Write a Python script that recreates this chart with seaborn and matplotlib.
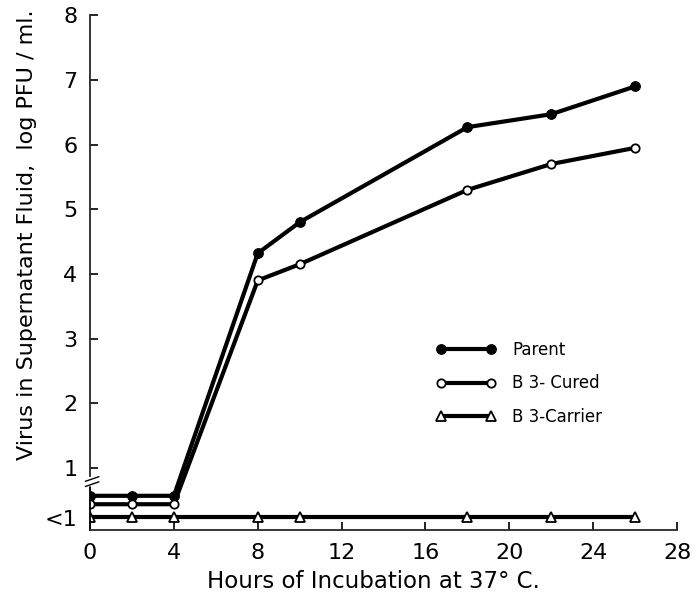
import matplotlib
matplotlib.use("Agg")
import matplotlib.pyplot as plt
import seaborn as sns
from matplotlib.lines import Line2D

hours_parent = [0, 2, 4, 8, 10, 18, 22, 26]
parent = [0.57, 0.57, 0.57, 4.32, 4.80, 6.27, 6.47, 6.90]
hours_cured = [0, 2, 4, 8, 10, 18, 22, 26]
cured = [0.44, 0.44, 0.44, 3.90, 4.15, 5.30, 5.70, 5.95]
hours_carrier = [0, 2, 4, 8, 10, 18, 22, 26]
carrier = [0.25, 0.25, 0.25, 0.25, 0.25, 0.25, 0.25, 0.25]

xticks = [0, 4, 8, 12, 16, 20, 24, 28]
yticks = [0.22, 1, 2, 3, 4, 5, 6, 7, 8]
ytick_labels = ["<1", "1", "2", "3", "4", "5", "6", "7", "8"]

sns.set_style("ticks")
plt.rcParams["font.family"] = ["DejaVu Sans"]
plt.rcParams["text.color"] = "black"
plt.rcParams["axes.labelcolor"] = "black"
plt.rcParams["xtick.color"] = "black"
plt.rcParams["ytick.color"] = "black"

fig = plt.figure(figsize=(6.98, 6.10), dpi=100)
ax = fig.add_axes([0.129, 0.131, 0.841, 0.844])

lw = 3.0
sns.lineplot(x=hours_parent, y=parent, ax=ax, color="black", lw=lw,
             marker="o", markersize=7, markerfacecolor="black",
             markeredgecolor="black", label="Parent")
sns.lineplot(x=hours_cured, y=cured, ax=ax, color="black", lw=lw,
             marker="o", markersize=6, markerfacecolor="white",
             markeredgecolor="black", markeredgewidth=1.3, label="B 3- Cured")
sns.lineplot(x=hours_carrier, y=carrier, ax=ax, color="black", lw=lw,
             marker="^", markersize=7, markerfacecolor="white",
             markeredgecolor="black", markeredgewidth=1.3, label="B 3-Carrier")

ax.set_xlim(0, 28)
ax.set_ylim(0.04, 8)
ax.set_xticks(xticks)
ax.set_xticklabels([str(t) for t in xticks])
ax.set_yticks(yticks)
ax.set_yticklabels(ytick_labels)
ax.tick_params(direction="in", length=6, width=1.2, labelsize=16, pad=9,
               colors="black")

sns.despine(ax=ax)
ax.spines["left"].set_linewidth(1.3)
ax.spines["bottom"].set_linewidth(1.3)
ax.spines["left"].set_bounds(0.88, 8)

# lower segment of the broken y axis and break marks
ax.add_line(Line2D([0, 0], [0.04, 0.70], color="black", lw=1.3, clip_on=False))
for yb in (0.72, 0.80):
    ax.annotate("", xy=(0.55, yb + 0.08), xytext=(-0.35, yb - 0.02),
                xycoords="data", textcoords="data",
                arrowprops=dict(arrowstyle="-", lw=1.0, color="black"),
                annotation_clip=False)

ax.set_xlabel("Hours of Incubation at 37° C.", fontsize=16.5)
ax.xaxis.set_label_coords(0.482, -0.078)
ax.set_ylabel("Virus in Supernatant Fluid,  log PFU / ml.", fontsize=16)
ax.yaxis.set_label_coords(-0.09, 0.573)

leg = ax.legend(loc="center left", bbox_to_anchor=(0.563, 0.285), frameon=False,
                fontsize=12, handlelength=3.6, labelspacing=0.95,
                handletextpad=1.0, numpoints=2)

fig.savefig("out.png", dpi=100)
